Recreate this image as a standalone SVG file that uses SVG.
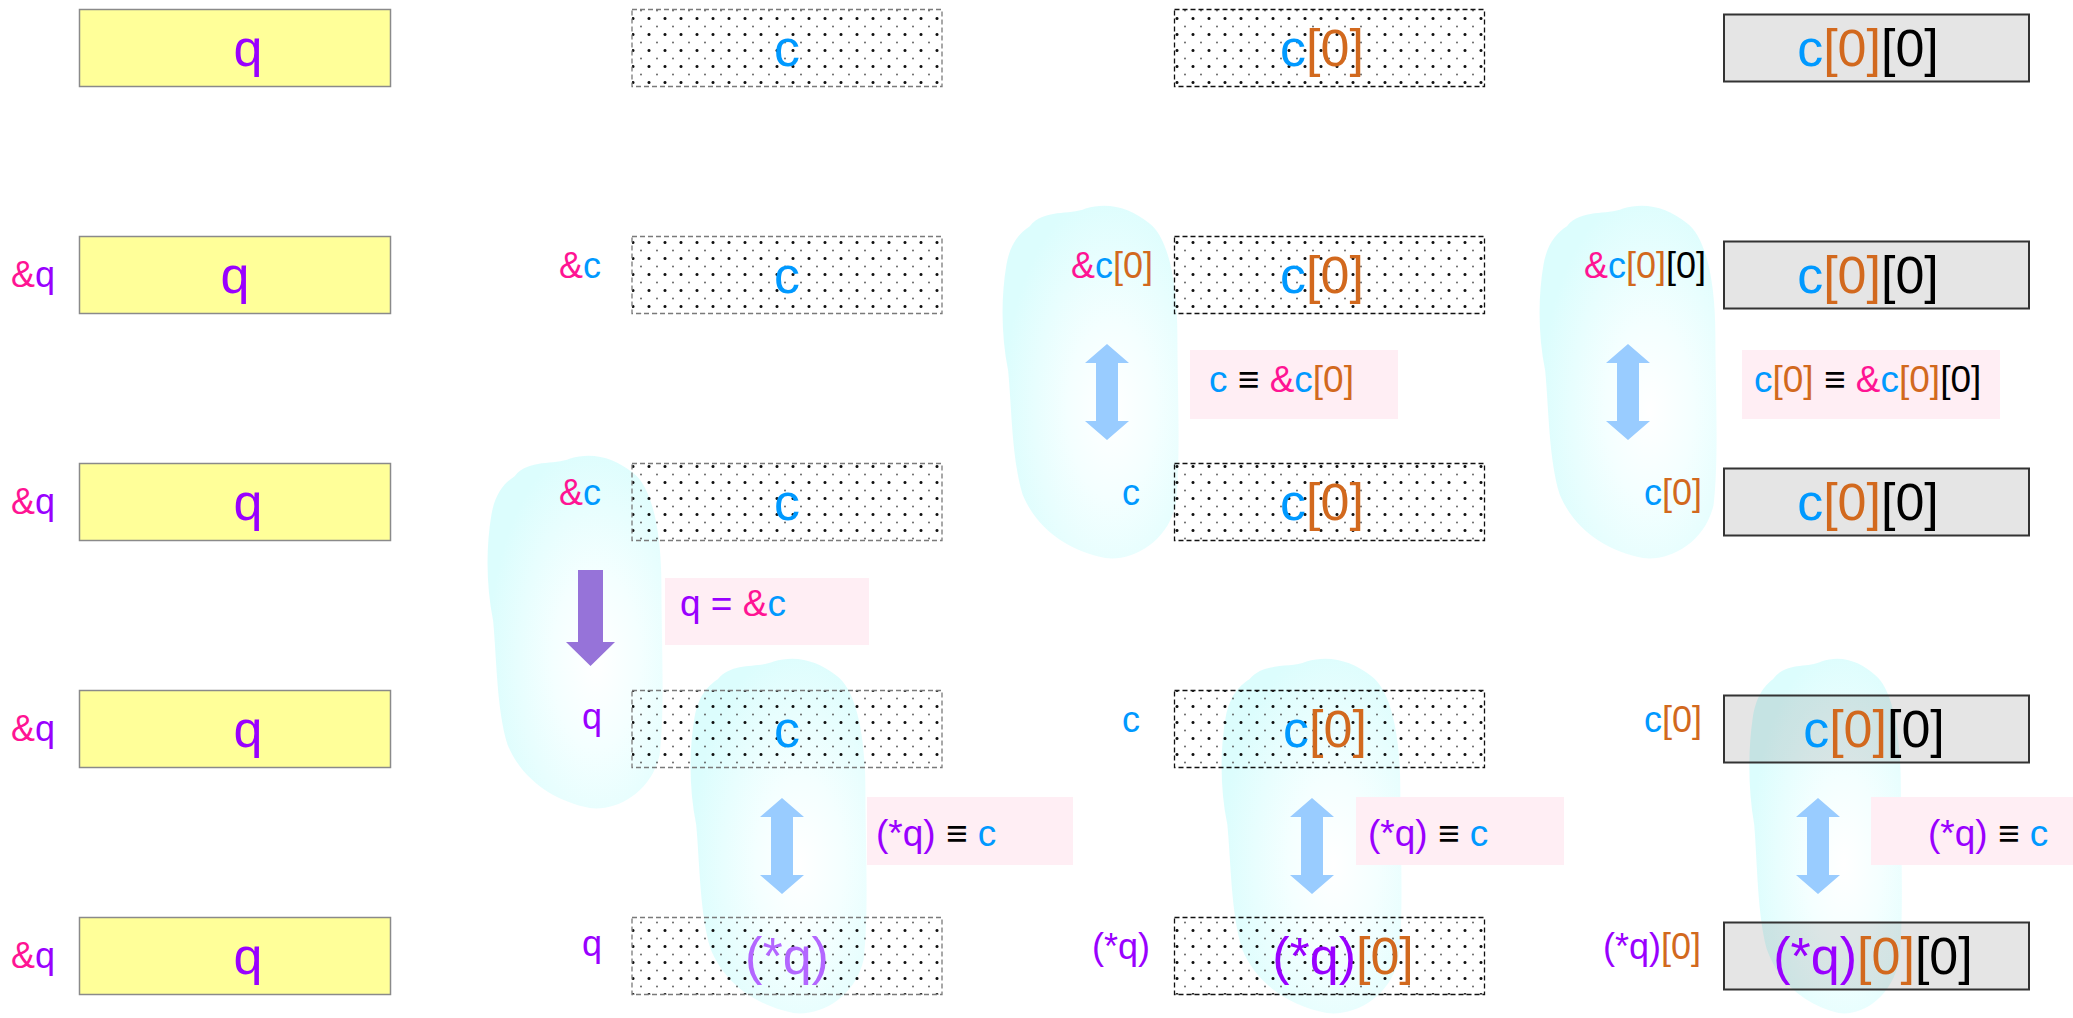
<svg xmlns="http://www.w3.org/2000/svg" width="2073" height="1018" viewBox="0 0 2073 1018">
<defs>
<style>
text{font-family:"Liberation Sans",Arial,sans-serif;}
.lb{font-size:36px;}
.bt{font-size:52px;}
.ct{font-size:37px;}
.p{fill:#9900ff;}
.pl{fill:#b366ff;}
.k{fill:#ff1493;}
.b{fill:#0099ff;}
.o{fill:#d2691e;}
.n{fill:#000000;}
.yel{fill:#ffff99;stroke:#8a8a8a;stroke-width:1.5;}
.dot1{fill:url(#dots);stroke:#7a7a7a;stroke-width:1.3;stroke-dasharray:5 3;}
.dot2{fill:url(#dots);stroke:#111;stroke-width:1.3;stroke-dasharray:5 3;}
.gry{fill:#000000;fill-opacity:0.1;stroke:#333;stroke-width:2;}
.call{fill:#ffeef4;}
.cloud{fill:url(#cg);}
.dbl{fill:#99ccff;}
.pa{fill:#9673d9;}
</style>
<pattern id="dots" patternUnits="userSpaceOnUse" x="1" y="2" width="16" height="16">
<circle cx="8" cy="0.5" r="1.5" fill="#111"/>
<circle cx="0" cy="8.5" r="0.9" fill="#555"/>
<circle cx="16" cy="8.5" r="0.9" fill="#555"/>
<circle cx="8" cy="16.5" r="1.5" fill="#111"/>
</pattern>
<radialGradient id="cg" cx="0.62" cy="0.58" r="0.62">
<stop offset="0" stop-color="#ffffff"/>
<stop offset="0.4" stop-color="#f4ffff"/>
<stop offset="1" stop-color="#dcfdfd"/>
</radialGradient>
<path id="cloudshape" d="M 16,6 C 24,1 38,3 47,1 C 60,-1 72,1 82,5 C 93,9 98,22 98,37 C 98,52 100,72 97,85 C 92,96 72,101 58,100 C 38,98 20,92 12,82 C 6,72 6,58 4,47 C 0,37 0,26 3,17 C 5,11 10,8 16,6 Z"/>
<path id="darrow" d="M0,0 L22,19 L11,19 L11,77 L22,77 L0,96 L-22,77 L-11,77 L-11,19 L-22,19 Z"/>
</defs>
<rect width="2073" height="1018" fill="#ffffff"/>

<!-- Clouds (drawn beneath the translucent boxes) -->
<g id="clouds">
<use href="#cloudshape" class="cloud" transform="translate(486,455) scale(1.79,3.53)"/>
<use href="#cloudshape" class="cloud" transform="translate(689,658) scale(1.80,3.55)"/>
<use href="#cloudshape" class="cloud" transform="translate(1001,205) scale(1.80,3.53)"/>
<use href="#cloudshape" class="cloud" transform="translate(1538,205) scale(1.81,3.53)"/>
<use href="#cloudshape" class="cloud" transform="translate(1220,658) scale(1.84,3.55)"/>
<use href="#cloudshape" class="cloud" transform="translate(1748,658) scale(1.56,3.55)"/>
</g>

<!-- Column 1: q boxes -->
<g id="q1"><rect class="yel" x="79.5" y="9.5" width="311" height="77"/><text class="bt p" x="248" y="66" text-anchor="middle">q</text></g>
<g id="q2"><rect class="yel" x="79.5" y="236.5" width="311" height="77"/><text class="bt p" x="235" y="293" text-anchor="middle">q</text><text class="lb" x="11" y="287"><tspan class="k">&amp;</tspan><tspan class="p">q</tspan></text></g>
<g id="q3"><rect class="yel" x="79.5" y="463.5" width="311" height="77"/><text class="bt p" x="248" y="520" text-anchor="middle">q</text><text class="lb" x="11" y="514"><tspan class="k">&amp;</tspan><tspan class="p">q</tspan></text></g>
<g id="q4"><rect class="yel" x="79.5" y="690.5" width="311" height="77"/><text class="bt p" x="248" y="747" text-anchor="middle">q</text><text class="lb" x="11" y="741"><tspan class="k">&amp;</tspan><tspan class="p">q</tspan></text></g>
<g id="q5"><rect class="yel" x="79.5" y="917.5" width="311" height="77"/><text class="bt p" x="248" y="974" text-anchor="middle">q</text><text class="lb" x="11" y="968"><tspan class="k">&amp;</tspan><tspan class="p">q</tspan></text></g>

<!-- Column 2: c boxes -->
<g id="c1"><rect class="dot1" x="632" y="9.5" width="310" height="77"/><text class="bt b" x="787" y="66" text-anchor="middle">c</text></g>
<g id="c2"><rect class="dot1" x="632" y="236.5" width="310" height="77"/><text class="bt b" x="787" y="293" text-anchor="middle">c</text><text class="lb" x="559" y="278"><tspan class="k">&amp;</tspan><tspan class="b">c</tspan></text></g>
<g id="c3"><rect class="dot1" x="632" y="463.5" width="310" height="77"/><text class="bt b" x="787" y="520" text-anchor="middle">c</text><text class="lb" x="559" y="505"><tspan class="k">&amp;</tspan><tspan class="b">c</tspan></text></g>
<g id="c4"><rect class="dot1" x="632" y="690.5" width="310" height="77"/><text class="bt b" x="787" y="747" text-anchor="middle">c</text><text class="lb p" x="582" y="729">q</text></g>
<g id="c5"><rect class="dot1" x="632" y="917.5" width="310" height="77"/><text class="bt pl" x="787" y="974" text-anchor="middle">(*q)</text><text class="lb p" x="582" y="956">q</text></g>

<!-- Column 3: c[0] boxes -->
<g id="c0_1"><rect class="dot2" x="1174.5" y="9.5" width="310" height="77"/><text class="bt" x="1322" y="66" text-anchor="middle"><tspan class="b">c</tspan><tspan class="o">[0]</tspan></text></g>
<g id="c0_2"><rect class="dot2" x="1174.5" y="236.5" width="310" height="77"/><text class="bt" x="1322" y="293" text-anchor="middle"><tspan class="b">c</tspan><tspan class="o">[0]</tspan></text><text class="lb" x="1071" y="278"><tspan class="k">&amp;</tspan><tspan class="b">c</tspan><tspan class="o">[0]</tspan></text></g>
<g id="c0_3"><rect class="dot2" x="1174.5" y="463.5" width="310" height="77"/><text class="bt" x="1322" y="520" text-anchor="middle"><tspan class="b">c</tspan><tspan class="o">[0]</tspan></text><text class="lb b" x="1122" y="505">c</text></g>
<g id="c0_4"><rect class="dot2" x="1174.5" y="690.5" width="310" height="77"/><text class="bt" x="1325" y="747" text-anchor="middle"><tspan class="b">c</tspan><tspan class="o">[0]</tspan></text><text class="lb b" x="1122" y="732">c</text></g>
<g id="c0_5"><rect class="dot2" x="1174.5" y="917.5" width="310" height="77"/><text class="bt" x="1343" y="974" text-anchor="middle"><tspan class="p">(*q)</tspan><tspan class="o">[0]</tspan></text><text class="lb p" x="1092" y="959">(*q)</text></g>

<!-- Column 4: c[0][0] boxes -->
<g id="c00_1"><rect class="gry" x="1724" y="14.5" width="305" height="67"/><text class="bt" x="1868" y="66" text-anchor="middle"><tspan class="b">c</tspan><tspan class="o">[0]</tspan><tspan class="n">[0]</tspan></text></g>
<g id="c00_2"><rect class="gry" x="1724" y="241.5" width="305" height="67"/><text class="bt" x="1868" y="293" text-anchor="middle"><tspan class="b">c</tspan><tspan class="o">[0]</tspan><tspan class="n">[0]</tspan></text><text class="lb" x="1584" y="278"><tspan class="k">&amp;</tspan><tspan class="b">c</tspan><tspan class="o">[0]</tspan><tspan class="n">[0]</tspan></text></g>
<g id="c00_3"><rect class="gry" x="1724" y="468.5" width="305" height="67"/><text class="bt" x="1868" y="520" text-anchor="middle"><tspan class="b">c</tspan><tspan class="o">[0]</tspan><tspan class="n">[0]</tspan></text><text class="lb" x="1644" y="505"><tspan class="b">c</tspan><tspan class="o">[0]</tspan></text></g>
<g id="c00_4"><rect class="gry" x="1724" y="695.5" width="305" height="67"/><text class="bt" x="1874" y="747" text-anchor="middle"><tspan class="b">c</tspan><tspan class="o">[0]</tspan><tspan class="n">[0]</tspan></text><text class="lb" x="1644" y="732"><tspan class="b">c</tspan><tspan class="o">[0]</tspan></text></g>
<g id="c00_5"><rect class="gry" x="1724" y="922.5" width="305" height="67"/><text class="bt" x="1873" y="974" text-anchor="middle"><tspan class="p">(*q)</tspan><tspan class="o">[0]</tspan><tspan class="n">[0]</tspan></text><text class="lb" x="1603" y="959"><tspan class="p">(*q)</tspan><tspan class="o">[0]</tspan></text></g>

<!-- Callouts -->
<g id="callout_assign"><rect class="call" x="665" y="578" width="204" height="67"/><text class="ct" x="680" y="616"><tspan class="p">q = </tspan><tspan class="k">&amp;</tspan><tspan class="b">c</tspan></text></g>
<g id="callout_c"><rect class="call" x="1190" y="350" width="208" height="69"/><text class="ct" x="1209" y="392"><tspan class="b">c</tspan><tspan class="n"> ≡ </tspan><tspan class="k">&amp;</tspan><tspan class="b">c</tspan><tspan class="o">[0]</tspan></text></g>
<g id="callout_c0"><rect class="call" x="1742" y="350" width="258" height="69"/><text class="ct" x="1754" y="392"><tspan class="b">c</tspan><tspan class="o">[0]</tspan><tspan class="n"> ≡ </tspan><tspan class="k">&amp;</tspan><tspan class="b">c</tspan><tspan class="o">[0]</tspan><tspan class="n">[0]</tspan></text></g>
<g id="callout_q2"><rect class="call" x="867" y="797" width="206" height="68"/><text class="ct" x="876" y="846"><tspan class="p">(*q)</tspan><tspan class="n"> ≡ </tspan><tspan class="b">c</tspan></text></g>
<g id="callout_q3"><rect class="call" x="1356" y="797" width="208" height="68"/><text class="ct" x="1368" y="846"><tspan class="p">(*q)</tspan><tspan class="n"> ≡ </tspan><tspan class="b">c</tspan></text></g>
<g id="callout_q4"><rect class="call" x="1871" y="797" width="202" height="68"/><text class="ct" x="1928" y="846"><tspan class="p">(*q)</tspan><tspan class="n"> ≡ </tspan><tspan class="b">c</tspan></text></g>

<!-- Connectors -->
<g id="connectors">
<path class="pa" d="M578,570 H603 V642 H615 L590.5,666 L566,642 H578 Z"/>
<use href="#darrow" class="dbl" x="1107" y="344"/>
<use href="#darrow" class="dbl" x="1628" y="344"/>
<use href="#darrow" class="dbl" x="782" y="798"/>
<use href="#darrow" class="dbl" x="1312" y="798"/>
<use href="#darrow" class="dbl" x="1818" y="798"/>
</g>
</svg>
